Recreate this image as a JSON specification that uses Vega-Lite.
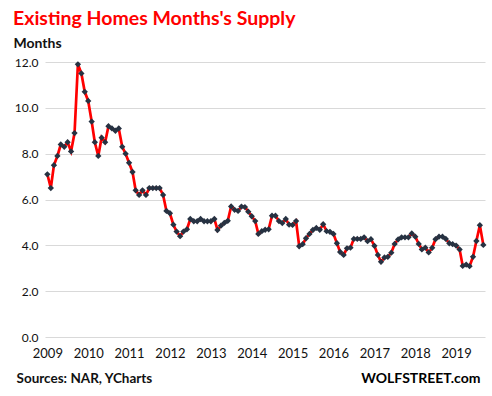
{
  "$schema": "https://vega.github.io/schema/vega-lite/v6.json",
  "width": 440,
  "height": 275,
  "autosize": {"type": "none"},
  "padding": {"left": 45, "top": 62, "right": 7, "bottom": 59},
  "background": "white",
  "title": {
    "text": "Existing Homes Months's Supply",
    "anchor": "start",
    "frame": "group",
    "color": "#ff0000",
    "font": "Lato",
    "fontSize": 19.5,
    "fontWeight": "bold",
    "baseline": "alphabetic",
    "dx": -32,
    "dy": 12,
    "offset": 4
  },
  "data": {"values": [
    {"date": "2009-01-01", "v": 7.1}, {"date": "2009-02-01", "v": 6.5}, {"date": "2009-03-01", "v": 7.5}, {"date": "2009-04-01", "v": 7.9},
    {"date": "2009-05-01", "v": 8.4}, {"date": "2009-06-01", "v": 8.3}, {"date": "2009-07-01", "v": 8.5}, {"date": "2009-08-01", "v": 8.1},
    {"date": "2009-09-01", "v": 8.9}, {"date": "2009-10-01", "v": 11.9}, {"date": "2009-11-01", "v": 11.5}, {"date": "2009-12-01", "v": 10.7},
    {"date": "2010-01-01", "v": 10.3}, {"date": "2010-02-01", "v": 9.4}, {"date": "2010-03-01", "v": 8.5}, {"date": "2010-04-01", "v": 7.9},
    {"date": "2010-05-01", "v": 8.7}, {"date": "2010-06-01", "v": 8.5}, {"date": "2010-07-01", "v": 9.2}, {"date": "2010-08-01", "v": 9.1},
    {"date": "2010-09-01", "v": 9.0}, {"date": "2010-10-01", "v": 9.1}, {"date": "2010-11-01", "v": 8.3}, {"date": "2010-12-01", "v": 8.0},
    {"date": "2011-01-01", "v": 7.6}, {"date": "2011-02-01", "v": 7.2}, {"date": "2011-03-01", "v": 6.4}, {"date": "2011-04-01", "v": 6.2},
    {"date": "2011-05-01", "v": 6.4}, {"date": "2011-06-01", "v": 6.2}, {"date": "2011-07-01", "v": 6.5}, {"date": "2011-08-01", "v": 6.5},
    {"date": "2011-09-01", "v": 6.5}, {"date": "2011-10-01", "v": 6.5}, {"date": "2011-11-01", "v": 6.2}, {"date": "2011-12-01", "v": 5.5},
    {"date": "2012-01-01", "v": 5.4}, {"date": "2012-02-01", "v": 4.9}, {"date": "2012-03-01", "v": 4.6}, {"date": "2012-04-01", "v": 4.4},
    {"date": "2012-05-01", "v": 4.6}, {"date": "2012-06-01", "v": 4.7}, {"date": "2012-07-01", "v": 5.15}, {"date": "2012-08-01", "v": 5.05},
    {"date": "2012-09-01", "v": 5.05}, {"date": "2012-10-01", "v": 5.15}, {"date": "2012-11-01", "v": 5.05}, {"date": "2012-12-01", "v": 5.05},
    {"date": "2013-01-01", "v": 5.05}, {"date": "2013-02-01", "v": 5.15}, {"date": "2013-03-01", "v": 4.67}, {"date": "2013-04-01", "v": 4.86},
    {"date": "2013-05-01", "v": 4.98}, {"date": "2013-06-01", "v": 5.07}, {"date": "2013-07-01", "v": 5.7}, {"date": "2013-08-01", "v": 5.55},
    {"date": "2013-09-01", "v": 5.5}, {"date": "2013-10-01", "v": 5.69}, {"date": "2013-11-01", "v": 5.67}, {"date": "2013-12-01", "v": 5.47},
    {"date": "2014-01-01", "v": 5.27}, {"date": "2014-02-01", "v": 5.06}, {"date": "2014-03-01", "v": 4.5}, {"date": "2014-04-01", "v": 4.62},
    {"date": "2014-05-01", "v": 4.68}, {"date": "2014-06-01", "v": 4.7}, {"date": "2014-07-01", "v": 5.29}, {"date": "2014-08-01", "v": 5.29},
    {"date": "2014-09-01", "v": 5.06}, {"date": "2014-10-01", "v": 4.97}, {"date": "2014-11-01", "v": 5.15}, {"date": "2014-12-01", "v": 4.9},
    {"date": "2015-01-01", "v": 4.89}, {"date": "2015-02-01", "v": 5.06}, {"date": "2015-03-01", "v": 3.96}, {"date": "2015-04-01", "v": 4.05},
    {"date": "2015-05-01", "v": 4.31}, {"date": "2015-06-01", "v": 4.5}, {"date": "2015-07-01", "v": 4.67}, {"date": "2015-08-01", "v": 4.76},
    {"date": "2015-09-01", "v": 4.68}, {"date": "2015-10-01", "v": 4.92}, {"date": "2015-11-01", "v": 4.62}, {"date": "2015-12-01", "v": 4.59},
    {"date": "2016-01-01", "v": 4.5}, {"date": "2016-02-01", "v": 4.09}, {"date": "2016-03-01", "v": 3.71}, {"date": "2016-04-01", "v": 3.58},
    {"date": "2016-05-01", "v": 3.87}, {"date": "2016-06-01", "v": 3.9}, {"date": "2016-07-01", "v": 4.28}, {"date": "2016-08-01", "v": 4.28},
    {"date": "2016-09-01", "v": 4.28}, {"date": "2016-10-01", "v": 4.35}, {"date": "2016-11-01", "v": 4.18}, {"date": "2016-12-01", "v": 4.27},
    {"date": "2017-01-01", "v": 3.98}, {"date": "2017-02-01", "v": 3.58}, {"date": "2017-03-01", "v": 3.28}, {"date": "2017-04-01", "v": 3.47},
    {"date": "2017-05-01", "v": 3.5}, {"date": "2017-06-01", "v": 3.68}, {"date": "2017-07-01", "v": 4.06}, {"date": "2017-08-01", "v": 4.26},
    {"date": "2017-09-01", "v": 4.35}, {"date": "2017-10-01", "v": 4.35}, {"date": "2017-11-01", "v": 4.35}, {"date": "2017-12-01", "v": 4.52},
    {"date": "2018-01-01", "v": 4.38}, {"date": "2018-02-01", "v": 4.06}, {"date": "2018-03-01", "v": 3.82}, {"date": "2018-04-01", "v": 3.9},
    {"date": "2018-05-01", "v": 3.69}, {"date": "2018-06-01", "v": 3.89}, {"date": "2018-07-01", "v": 4.27}, {"date": "2018-08-01", "v": 4.38},
    {"date": "2018-09-01", "v": 4.38}, {"date": "2018-10-01", "v": 4.28}, {"date": "2018-11-01", "v": 4.09}, {"date": "2018-12-01", "v": 4.05},
    {"date": "2019-01-01", "v": 3.99}, {"date": "2019-02-01", "v": 3.82}, {"date": "2019-03-01", "v": 3.1}, {"date": "2019-04-01", "v": 3.16},
    {"date": "2019-05-01", "v": 3.09}, {"date": "2019-06-01", "v": 3.5}, {"date": "2019-07-01", "v": 4.19}, {"date": "2019-08-01", "v": 4.88},
    {"date": "2019-09-01", "v": 4.02}
  ]},
  "encoding": {
    "x": {
      "field": "date",
      "type": "temporal",
      "scale": {
        "type": "utc",
        "domain": [
          {"year": 2008, "month": 12, "date": 11, "utc": true},
          {"year": 2019, "month": 9, "date": 16, "utc": true}
        ]
      },
      "axis": {
        "title": "Sources: NAR, YCharts",
        "titleFont": "Lato",
        "titleFontSize": 13.5,
        "titleFontWeight": "bold",
        "titleColor": "#111111",
        "titleAnchor": "start",
        "titleAlign": "left",
        "titleBaseline": "alphabetic",
        "titleX": -29,
        "titleY": 45,
        "tickCount": {"interval": "year", "step": 1},
        "format": "%Y",
        "labelFont": "Lato",
        "labelFontSize": 13,
        "labelColor": "#111111",
        "labelPadding": 10,
        "labelFlush": false,
        "labelOverlap": false,
        "grid": false,
        "ticks": false,
        "domain": false
      }
    }
  },
  "layer": [
    {
      "mark": {"type": "line", "color": "#ff0000", "strokeWidth": 2.7},
      "encoding": {
        "y": {
          "field": "v",
          "type": "quantitative",
          "scale": {"domain": [0, 12], "nice": false, "zero": true},
          "axis": {
            "title": "Months",
            "titleFont": "Lato",
            "titleFontSize": 14,
            "titleFontWeight": "bold",
            "titleColor": "#111111",
            "titleAngle": 0,
            "titleAlign": "left",
            "titleBaseline": "alphabetic",
            "titleX": -32,
            "titleY": -15,
            "values": [0, 2, 4, 6, 8, 10, 12],
            "format": ".1f",
            "labelFont": "Lato",
            "labelFontSize": 12,
            "labelColor": "#111111",
            "labelPadding": 7,
            "grid": true,
            "gridColor": "#d9d9d9",
            "gridWidth": 1,
            "ticks": false,
            "domain": false
          }
        }
      }
    },
    {
      "mark": {"type": "point", "shape": "diamond", "filled": true, "size": 40, "color": "#263242", "opacity": 1},
      "encoding": {
        "y": {
          "field": "v",
          "type": "quantitative",
          "axis": {
            "orient": "right",
            "title": "WOLFSTREET.com",
            "titleFont": "Lato",
            "titleFontSize": 14,
            "titleFontWeight": "bold",
            "titleColor": "#000000",
            "titleAngle": 0,
            "titleAlign": "right",
            "titleBaseline": "alphabetic",
            "titleX": -5,
            "titleY": 320,
            "labels": false,
            "ticks": false,
            "domain": false,
            "grid": false
          }
        }
      }
    }
  ],
  "resolve": {"axis": {"y": "independent"}},
  "config": {"view": {"stroke": null}}
}
